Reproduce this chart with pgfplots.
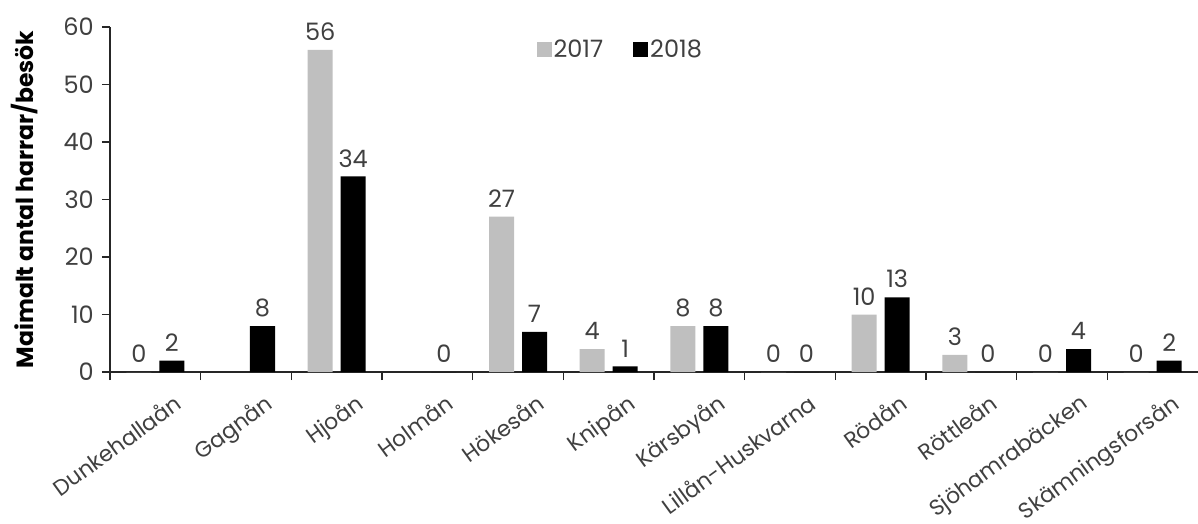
\documentclass[border=0pt]{standalone}
\usepackage{fontspec}
\setmainfont{Poppins}
\usepackage{pgfplots}
\pgfplotsset{compat=1.18}
\definecolor{g17}{HTML}{BFBFBF}
\definecolor{txt}{HTML}{404040}
\newcommand{\fs}{\fontsize{24}{28}\selectfont}
\newcommand{\fx}{\fontsize{22}{26}\selectfont}
\begin{document}
\fs
\begin{tikzpicture}
\begin{axis}[name=ax,
  scale only axis, width=1088pt, height=345pt,
  ymin=0, ymax=60, ytick={0,10,...,60},
  xmin=-0.5, xmax=11.5,
  axis x line=bottom, axis y line=left,
  axis line style={-, line width=1.5pt, black!85},
  tick align=outside, major tick length=8pt,
  tick style={line width=1.5pt, black!85},
  ybar=8pt, bar width=25pt,
  xtick={-0.5,0.5,...,10.5}, xticklabels={},
  extra x ticks={0,1,...,11},
  extra x tick labels={Dunkehallaån,Gagnån,Hjoån,Holmån,Hökesån,Knipån,Kärsbyån,Lillån-Huskvarna,Rödån,Röttleån,Sjöhamrabäcken,Skämningsforsån},
  extra x tick style={major tick length=0pt, xticklabel style={rotate=36, anchor=north east, text=txt, font=\fx, inner sep=0pt, yshift=-27pt, xshift=2pt}},
  yticklabel style={text=txt, font=\fs},
  /pgf/number format/assume math mode=true,
  ylabel={\bfseries Maimalt antal harrar/besök},
  ylabel style={font=\fontsize{23.5}{26}\selectfont, text=black},
  ylabel shift=9pt,
  nodes near coords,
  every node near coord/.append style={font=\fs, text=txt, yshift=1pt},
  legend style={draw=none, at={(0.469,0.933)}, anchor=center, font=\fs, text=txt,
    /tikz/every even column/.append style={column sep=28pt}},
  legend columns=2,
  legend image code/.code={\fill[#1] (0pt,-7pt) rectangle (15pt,8pt);},
  clip=false,
]
\addplot[fill=g17, draw=none] coordinates {(0,0) (2,56) (4,27) (5,4) (6,8) (7,0) (8,10) (9,3) (10,0) (11,0)};
\addplot[fill=black, draw=none] coordinates {(0,2) (1,8) (2,34) (3,0) (4,7) (5,1) (6,8) (7,0) (8,13) (9,0) (10,4) (11,2)};
\legend{2017,2018}
\end{axis}
\pgfresetboundingbox
\path[use as bounding box] ([xshift=-110pt,yshift=-152pt]ax.south west) rectangle ([yshift=27pt]ax.north east);
\end{tikzpicture}
\end{document}
